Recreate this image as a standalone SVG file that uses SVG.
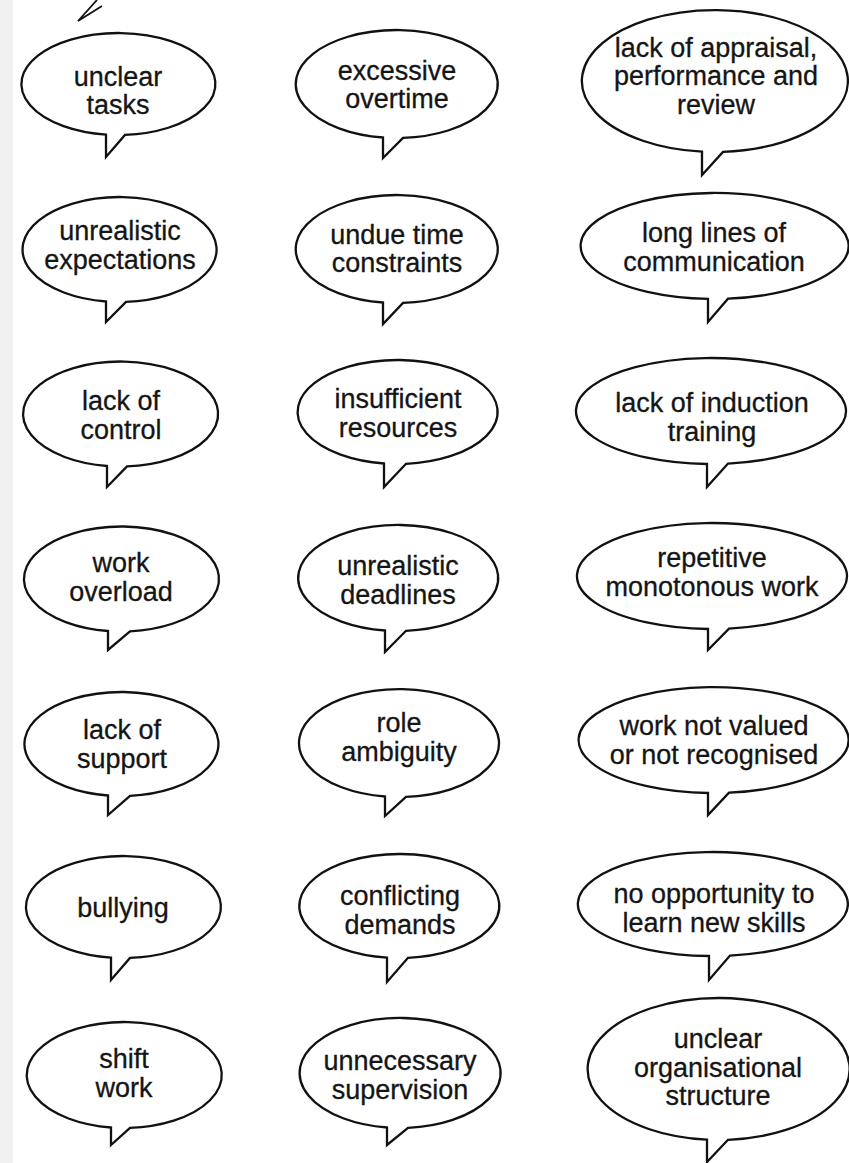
<svg xmlns="http://www.w3.org/2000/svg" width="849" height="1163" viewBox="0 0 849 1163">
  <style>
    .bubble { fill: #ffffff; stroke: #111111; stroke-width: 2.3; stroke-linejoin: miter; }
    .label { font-family: "Liberation Sans", Arial, sans-serif; font-size: 27px; fill: #151515; stroke: #151515; stroke-width: 0.3; text-anchor: middle; }
  </style>
  <rect x="0" y="0" width="849" height="1163" fill="#ffffff"/>
  <!-- faint strip along the page gutter -->
  <rect x="0" y="0" width="13" height="1163" fill="#f1f1f1"/>

  <!-- tip of a speech-bubble tail running in from above -->
  <g id="tail-fragment">
    <path d="M97 0 L78 21 L102 6" fill="none" stroke="#111111" stroke-width="1.8"/>
  </g>

  <!-- Row 1 -->
  <g id="unclear-tasks">
    <path class="bubble" d="M106 134.6 L106 157 L125 134.9 A97 51 0 1 0 106 134.6 Z"/>
    <text class="label" x="118" y="86">unclear</text>
    <text class="label" x="118" y="114">tasks</text>
  </g>
  <g id="excessive-overtime">
    <path class="bubble" d="M383 137.5 L383 158 L403 137.9 A101 54 0 1 0 383 137.5 Z"/>
    <text class="label" x="397" y="80">excessive</text>
    <text class="label" x="397" y="108">overtime</text>
  </g>
  <g id="lack-of-appraisal">
    <path class="bubble" d="M702 151.7 L702 175 L723 151.9 A133 71 0 1 0 702 151.7 Z"/>
    <text class="label" x="716" y="57">lack of appraisal,</text>
    <text class="label" x="716" y="85">performance and</text>
    <text class="label" x="716" y="114">review</text>
  </g>

  <!-- Row 2 -->
  <g id="unrealistic-expectations">
    <path class="bubble" d="M106 301.5 L106 322 L126 301.9 A97 52.5 0 1 0 106 301.5 Z"/>
    <text class="label" x="120" y="240">unrealistic</text>
    <text class="label" x="120" y="269">expectations</text>
  </g>
  <g id="undue-time-constraints">
    <path class="bubble" d="M383 302.5 L383 324 L403 302.9 A101 54 0 1 0 383 302.5 Z"/>
    <text class="label" x="397" y="244">undue time</text>
    <text class="label" x="397" y="272">constraints</text>
  </g>
  <g id="long-lines-of-communication">
    <path class="bubble" d="M708 298.9 L708 322 L728 298.7 A134 53 0 1 0 708 298.9 Z"/>
    <text class="label" x="714" y="242">long lines of</text>
    <text class="label" x="714" y="271">communication</text>
  </g>

  <!-- Row 3 -->
  <g id="lack-of-control">
    <path class="bubble" d="M107 466 L107 487 L127 466.4 A97.5 52.5 0 1 0 107 466 Z"/>
    <text class="label" x="121" y="410">lack of</text>
    <text class="label" x="121" y="439">control</text>
  </g>
  <g id="insufficient-resources">
    <path class="bubble" d="M384 463.5 L384 487 L406 463.8 A100 52 0 1 0 384 463.5 Z"/>
    <text class="label" x="398" y="408">insufficient</text>
    <text class="label" x="398" y="437">resources</text>
  </g>
  <g id="lack-of-induction-training">
    <path class="bubble" d="M707 464 L707 487 L728 463.6 A135 53 0 1 0 707 464 Z"/>
    <text class="label" x="712" y="412">lack of induction</text>
    <text class="label" x="712" y="441">training</text>
  </g>

  <!-- Row 4 -->
  <g id="work-overload">
    <path class="bubble" d="M108 631 L108 650 L130 631.3 A97.5 52.5 0 1 0 108 631 Z"/>
    <text class="label" x="121" y="572">work</text>
    <text class="label" x="121" y="601">overload</text>
  </g>
  <g id="unrealistic-deadlines">
    <path class="bubble" d="M385 630.5 L385 652 L406 630.8 A100 53 0 1 0 385 630.5 Z"/>
    <text class="label" x="398" y="575">unrealistic</text>
    <text class="label" x="398" y="604">deadlines</text>
  </g>
  <g id="repetitive-monotonous-work">
    <path class="bubble" d="M708 629 L708 650 L729 628.6 A135 53 0 1 0 708 629 Z"/>
    <text class="label" x="712" y="567">repetitive</text>
    <text class="label" x="712" y="596">monotonous work</text>
  </g>

  <!-- Row 5 -->
  <g id="lack-of-support">
    <path class="bubble" d="M108 795.5 L108 815 L130 795.8 A97 52 0 1 0 108 795.5 Z"/>
    <text class="label" x="122" y="739">lack of</text>
    <text class="label" x="122" y="768">support</text>
  </g>
  <g id="role-ambiguity">
    <path class="bubble" d="M385 796.5 L385 816 L406 796.9 A100 54 0 1 0 385 796.5 Z"/>
    <text class="label" x="399" y="732">role</text>
    <text class="label" x="399" y="761">ambiguity</text>
  </g>
  <g id="work-not-valued">
    <path class="bubble" d="M708 793 L708 815 L729 792.7 A135 53 0 1 0 708 793 Z"/>
    <text class="label" x="714" y="735">work not valued</text>
    <text class="label" x="714" y="764">or not recognised</text>
  </g>

  <!-- Row 6 -->
  <g id="bullying">
    <path class="bubble" d="M111 957.6 L111 980 L130 957.9 A97.5 51 0 1 0 111 957.6 Z"/>
    <text class="label" x="123" y="917">bullying</text>
  </g>
  <g id="conflicting-demands">
    <path class="bubble" d="M387 957.6 L387 982 L408 957.8 A100 52 0 1 0 387 957.6 Z"/>
    <text class="label" x="400" y="905">conflicting</text>
    <text class="label" x="400" y="934">demands</text>
  </g>
  <g id="no-opportunity">
    <path class="bubble" d="M709 956 L709 980 L730 955.6 A135 52 0 1 0 709 956 Z"/>
    <text class="label" x="714" y="903">no opportunity to</text>
    <text class="label" x="714" y="932">learn new skills</text>
  </g>

  <!-- Row 7 -->
  <g id="shift-work">
    <path class="bubble" d="M111 1127.5 L111 1145 L130 1127.9 A97.5 53 0 1 0 111 1127.5 Z"/>
    <text class="label" x="124" y="1068">shift</text>
    <text class="label" x="124" y="1097">work</text>
  </g>
  <g id="unnecessary-supervision">
    <path class="bubble" d="M387 1127.5 L387 1145 L408 1127.8 A100.5 55 0 1 0 387 1127.5 Z"/>
    <text class="label" x="400" y="1070">unnecessary</text>
    <text class="label" x="400" y="1099">supervision</text>
  </g>
  <g id="unclear-organisational-structure">
    <path class="bubble" d="M707 1139.7 L707 1162 L728 1139.8 A131 71 0 1 0 707 1139.7 Z"/>
    <text class="label" x="718" y="1048">unclear</text>
    <text class="label" x="718" y="1077">organisational</text>
    <text class="label" x="718" y="1105">structure</text>
  </g>

  <g id="connectors"></g>
</svg>
